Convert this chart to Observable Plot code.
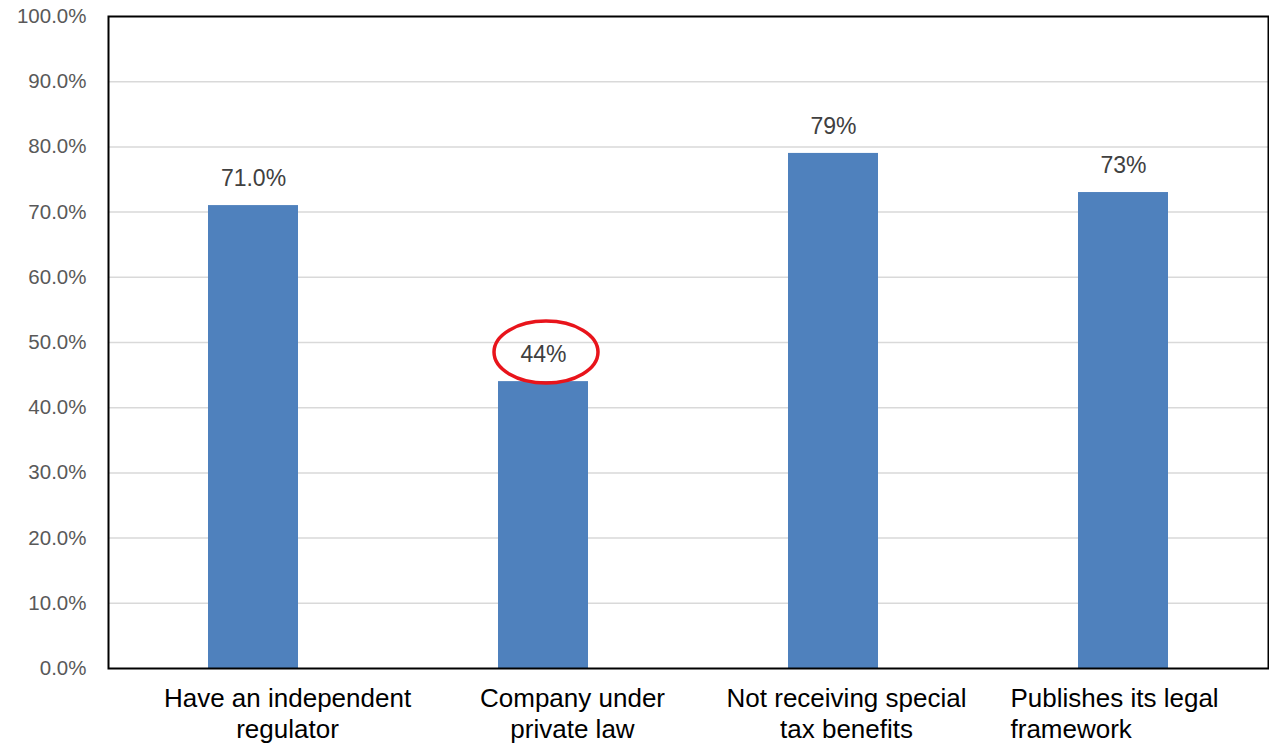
<!DOCTYPE html>
<html>
<head>
<meta charset="utf-8">
<script src="https://cdn.jsdelivr.net/npm/d3@7"></script>
<script src="https://cdn.jsdelivr.net/npm/@observablehq/plot@0.6"></script>
<style>
  html, body { margin: 0; padding: 0; background: #fff; }
  #chart { width: 1269px; height: 744px; overflow: hidden; }
</style>
</head>
<body>
<div id="chart"></div>
<script>
const categories = [
  "Have an independent\nregulator",
  "Company under\nprivate law",
  "Not receiving special\ntax benefits",
  "Publishes its legal\nframework"
];
const values = [71, 44, 79, 73];
const valueLabels = ["71.0%", "44%", "79%", "73%"];
const yTicks = [0, 10, 20, 30, 40, 50, 60, 70, 80, 90, 100];
const yTickLabels = ["0.0%", "10.0%", "20.0%", "30.0%", "40.0%", "50.0%", "60.0%", "70.0%", "80.0%", "90.0%", "100.0%"];
const highlighted = "Company under\nprivate law";

const data = categories.map((c, i) => ({cat: c, value: values[i], label: valueLabels[i], idx: i}));

// label styling offsets (style, not data)
const labelStyle = [
  {dx: 34, textAnchor: "middle"},
  {dx: 29, textAnchor: "middle"},
  {dx: 13, textAnchor: "middle"},
  {dx: -113, textAnchor: "start"}
];

const chart = Plot.plot({
  width: 1269,
  height: 744,
  marginTop: 16,
  marginBottom: 76,
  marginLeft: 108,
  marginRight: 1,
  style: {fontFamily: "Liberation Sans, Arial, sans-serif", background: "#fff", overflow: "visible"},
  x: {domain: categories, paddingInner: 0.69, paddingOuter: 0.345, axis: null},
  y: {domain: [0, 100], axis: null, label: null},
  marks: [
    Plot.ruleY(yTicks.filter(d => d > 0 && d < 100), {stroke: "#d9d9d9", strokeWidth: 1.5}),
    Plot.barY(data, {x: "cat", y: "value", fill: "#4f81bd"}),
    Plot.frame({stroke: "#000", strokeWidth: 2}),
    Plot.axisY(yTicks, {
      tickFormat: (d) => yTickLabels[yTicks.indexOf(d)],
      tickSize: 0, tickPadding: 22, fontSize: 20.5, color: "#595959", fill: "#595959",
      label: null
    }),
    Plot.text(data, {
      x: "cat", y: "value", text: "label", dy: -27,
      fontSize: 23, fill: "#404040"
    }),
    ...data.map((d, i) => Plot.text([d], {
      x: "cat", y: 0, text: "cat", dy: 17, dx: labelStyle[i].dx, textAnchor: labelStyle[i].textAnchor,
      lineAnchor: "top", lineHeight: 1.19, fontSize: 26, fill: "#000"
    })),
    (index, scales) => {
      const cx = scales.x(highlighted) + scales.x.bandwidth() / 2 + 3;
      const cy = scales.y(44) - 29;
      const g = d3.create("svg:g");
      g.append("ellipse")
        .attr("cx", cx).attr("cy", cy)
        .attr("rx", 52).attr("ry", 31)
        .attr("fill", "none").attr("stroke", "#e8141b").attr("stroke-width", 3.5);
      return g.node();
    }
  ]
});
document.getElementById("chart").appendChild(chart);
</script>
</body>
</html>
